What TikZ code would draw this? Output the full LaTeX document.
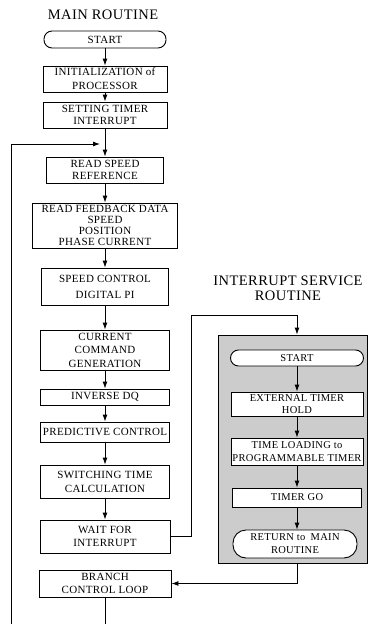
\documentclass[tikz,border=0pt]{standalone}
\usepackage{fontspec}
\setmainfont{Liberation Serif}[LetterSpace=3]
\usetikzlibrary{arrows.meta}
\begin{document}
\begin{tikzpicture}[x=1pt,y=-1pt,
  box/.style={draw,line width=0.9pt,fill=white,inner sep=1pt,align=center,
    font=\fontsize{11}{12.5}\selectfont},
  term/.style={box,rounded corners=8pt},
  flow/.style={line width=0.9pt,-{Latex[length=7pt,width=5pt]}},
  wire/.style={line width=0.9pt},
  title/.style={align=center,font=\fontsize{14.5}{15}\selectfont}]
\useasboundingbox (0,0) rectangle (370,624);

% ---------------- main routine ----------------
\node[title] (tmain) at (103,15) {MAIN ROUTINE};
\node[term, minimum width=122, minimum height=17] (start) at (105,39.5) {START};
\node[box, minimum width=124, minimum height=26, font=\fontsize{11}{14}\selectfont] (init) at (105,79) {INITIALIZATION of\\PROCESSOR};
\node[box, minimum width=124, minimum height=26] (settimer) at (105,115) {SETTING TIMER\\INTERRUPT};
\node[box, minimum width=117, minimum height=26] (ref) at (105,170) {READ SPEED\\REFERENCE};
\node[box, minimum width=145, minimum height=45, font=\fontsize{11}{10.8}\selectfont] (fb) at (105,225.5) {READ FEEDBACK DATA\\SPEED\\POSITION\\PHASE CURRENT};
\node[box, minimum width=127, minimum height=37, font=\fontsize{11}{16}\selectfont] (pi) at (105,286.5) {SPEED CONTROL\\DIGITAL PI};
\node[box, minimum width=129, minimum height=40, font=\fontsize{11}{13.5}\selectfont] (cmd) at (105,350) {CURRENT\\COMMAND\\GENERATION};
\node[box, minimum width=129, minimum height=16] (idq) at (105,397) {INVERSE DQ};
\node[box, minimum width=129, minimum height=20] (pred) at (105,432) {PREDICTIVE CONTROL};
\node[box, minimum width=129, minimum height=33, font=\fontsize{11}{14}\selectfont] (sw) at (105,481.5) {SWITCHING TIME\\CALCULATION};
\node[box, minimum width=130, minimum height=33] (wait) at (105,536.5) {WAIT FOR\\INTERRUPT};
\node[box, minimum width=132, minimum height=27] (branch) at (105,583.5) {BRANCH\\CONTROL LOOP};

\draw[flow] (start) -- (init);
\draw[flow] (init) -- (settimer);
\draw[flow] (settimer) -- (ref);
\draw[flow] (ref) -- (fb);
\draw[flow] (fb) -- (pi);
\draw[flow] (pi) -- (cmd);
\draw[flow] (cmd) -- (idq);
\draw[flow] (idq) -- (pred);
\draw[flow] (pred) -- (sw);
\draw[flow] (sw) -- (wait);

% control loop return path
\coordinate (loopbot) at (11,624);
\coordinate (loopin) at (100,144);
\coordinate (mainbot) at (105,624);
\draw[wire] (branch) -- (mainbot);
\draw[flow] (loopbot) |- (loopin);

% ---------------- interrupt service routine ----------------
\node[title] (tisr) at (288,288) {INTERRUPT SERVICE\\ROUTINE};
\node[draw, line width=0.9pt, fill=black!20, minimum width=149, minimum height=228, inner sep=0pt] (isr) at (292.5,449) {};
\node[term, minimum width=133, minimum height=16, font=\fontsize{10.5}{12.5}\selectfont] (istart) at (297,358) {START};
\node[box, minimum width=132, minimum height=24, font=\fontsize{10.5}{12.5}\selectfont] (hold) at (297,404) {EXTERNAL TIMER\\HOLD};
\node[box, minimum width=132, minimum height=27, font=\fontsize{10.5}{12.5}\selectfont] (load) at (297,451.5) {TIME LOADING to\\PROGRAMMABLE TIMER};
\node[box, minimum width=129, minimum height=19, font=\fontsize{10.5}{12.5}\selectfont] (go) at (297,497.5) {TIMER GO};
\node[box, rounded corners=13pt, minimum width=124, minimum height=28, font=\fontsize{10.5}{13}\selectfont] (ret) at (295,544) {RETURN to\enspace MAIN\\ROUTINE};

\draw[flow] (istart) -- (hold);
\draw[flow] (hold) -- (load);
\draw[flow] (load) -- (go);
\draw[flow] (go.south) -- (go.south |- ret.north);

% links between the two routines
\coordinate (upturn) at (191,315);
\draw[flow] (wait.east) -| (upturn) -| (istart.north |- isr.north);
\draw[flow] (istart.south |- isr.south) |- (branch.east);
\end{tikzpicture}
\end{document}
